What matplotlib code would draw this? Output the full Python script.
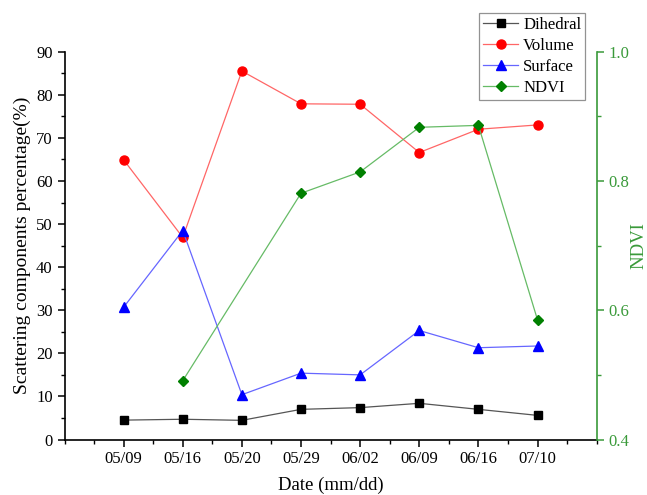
import numpy as np
import matplotlib
matplotlib.use("Agg")
import matplotlib.pyplot as plt
from matplotlib.ticker import MultipleLocator

plt.rcParams['font.family'] = ['Liberation Serif', 'DejaVu Serif']

dates = ['05/09', '05/16', '05/20', '05/29', '06/02', '06/09', '06/16', '07/10']
dihedral = [4.5, 4.7, 4.45, 7.0, 7.4, 8.4, 7.0, 5.6]
volume = [64.9, 46.9, 85.5, 77.9, 77.8, 66.6, 72.0, 73.0]
surface = [30.7, 48.5, 10.4, 15.4, 15.0, 25.3, 21.3, 21.7]
ndvi_dates = ['05/16', '05/29', '06/02', '06/09', '06/16', '07/10']
ndvi = [0.491, 0.781, 0.814, 0.883, 0.886, 0.585]

green = '#3a9a3a'

fig = plt.figure(figsize=(6.47, 4.95), dpi=100)
ax = fig.add_axes([0.0997, 0.1121, 0.8225, 0.7835])
x = np.arange(1, len(dates) + 1)
xn = [dates.index(d) + 1 for d in ndvi_dates]

l1, = ax.plot(x, dihedral, '-s', color='#555555', mfc='black', mec='black', ms=5.5, lw=0.9,
              label='Dihedral')
l2, = ax.plot(x, volume, '-o', color='#ff6666', mfc='red', mec='red', ms=6.5, lw=0.9,
              label='Volume')
l3, = ax.plot(x, surface, '-^', color='#6666ff', mfc='blue', mec='blue', ms=7, lw=0.9,
              label='Surface')

ax2 = ax.twinx()
l4, = ax2.plot(xn, ndvi, '-D', color='#66bb66', mfc='green', mec='green', ms=5.5, lw=0.9,
               label='NDVI')

ax.set_xlim(0, 9)
ax.set_ylim(0, 90)
ax2.set_ylim(0.4, 1.0)
ax.set_xticks(x)
ax.set_xticklabels(dates)
ax.xaxis.set_minor_locator(MultipleLocator(0.5))
ax.yaxis.set_major_locator(MultipleLocator(10))
ax.yaxis.set_minor_locator(MultipleLocator(5))
ax2.yaxis.set_major_locator(MultipleLocator(0.2))
ax2.yaxis.set_minor_locator(MultipleLocator(0.1))

ax.spines['top'].set_visible(False)
ax.spines['right'].set_visible(False)
ax2.spines['top'].set_visible(False)
ax2.spines['left'].set_visible(False)
ax2.spines['bottom'].set_visible(False)
ax2.spines['right'].set_color(green)
ax2.spines['right'].set_linewidth(1.2)
ax.spines['left'].set_linewidth(1.2)
ax.spines['bottom'].set_linewidth(1.2)

ax.tick_params(axis='both', which='both', direction='out', labelsize=12)
ax.tick_params(which='major', length=5, width=1.1)
ax.tick_params(which='minor', length=3, width=1.0)
ax2.tick_params(axis='y', which='both', direction='out', colors=green, labelsize=12)
ax2.tick_params(which='major', length=5, width=1.1)
ax2.tick_params(which='minor', length=3, width=1.0)

ax.set_xlabel('Date (mm/dd)', fontsize=13.5, labelpad=7)
ax.set_ylabel('Scattering components percentage(%)', fontsize=14, labelpad=4)
ax2.set_ylabel('NDVI', fontsize=13.5, color=green, labelpad=1)

# legend sits above the plot, left of the NDVI axis
leg = fig.legend(handles=[l1, l2, l3, l4], loc='upper left',
                 bbox_to_anchor=(479 / 647, 1 - 12.5 / 495), fontsize=12,
                 frameon=True, fancybox=False, edgecolor='#777777',
                 handlelength=2.1, borderpad=0.25, labelspacing=0.3,
                 handletextpad=0.3, borderaxespad=0)
leg.get_frame().set_linewidth(0.9)

fig.savefig('out.png', dpi=100)
